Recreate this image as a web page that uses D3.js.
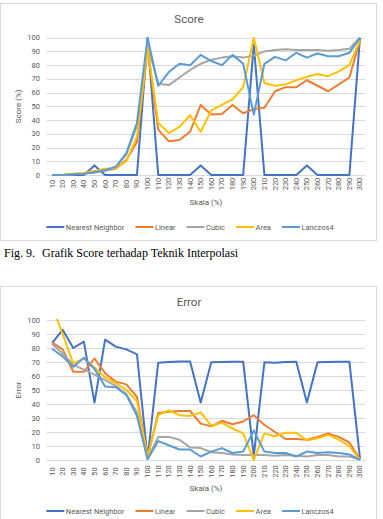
<!DOCTYPE html>
<html>
<head>
<meta charset="utf-8">
<script src="https://cdn.jsdelivr.net/npm/d3@7"></script>
<style>
  body { margin: 0; background: #fff; }
  svg { display: block; }
</style>
</head>
<body>
<script>
// ------------------
// Data
// ------------------
const categories = ['10', '20', '30', '40', '50', '60', '70', '80', '90', '100',
  '110', '120', '130', '140', '150', '160', '170', '180', '190', '200',
  '210', '220', '230', '240', '250', '260', '270', '280', '290', '300']

const seriesNames = ['Nearest Neighbor', 'Linear', 'Cubic', 'Area', 'Lanczos4']
const seriesColors = ['#4472C4', '#ED7D31', '#A5A5A5', '#FFC000', '#5B9BD5']

const yTicks = [0, 10, 20, 30, 40, 50, 60, 70, 80, 90, 100]

const scoreNearest = [0, 0, 0, 0, 7, 0, 0, 0, 0, 100, 0, 0, 0, 0, 7, 0, 0, 0, 0, 95, 0, 0, 0, 0, 7, 0, 0, 0, 0, 100]
const scoreLinear = [0, 0, 0.5, 1, 2, 3.5, 4.5, 11, 24, 92, 33, 24.5, 25.5, 31.5, 51, 44, 44.5, 51, 45, 48, 49, 61, 64, 64, 69, 65, 61, 66, 71, 98]
const scoreCubic = [0, 0, 0.5, 1, 2, 3, 5.5, 15, 36, 95, 66.5, 65.5, 71, 76.5, 81, 84, 85.5, 86.5, 85.5, 87, 90, 91, 91.5, 91, 91, 91, 90.5, 91, 92, 100]
const scoreArea = [0, 0, 1, 1.5, 3, 4.5, 5, 10, 28, 93, 38, 30.5, 35, 43.5, 31.5, 47, 51, 55, 64, 100, 67, 65, 66, 69, 71.5, 73.5, 72, 75.5, 80, 98]
const scoreLanczos = [0, 0, 0.5, 1, 2, 3.5, 6, 16, 38, 100, 65, 75, 81, 80, 87.5, 83, 80, 87.5, 81, 44, 81, 86, 83.5, 89, 85.5, 88.5, 86.5, 86.5, 89, 100]

const errorNearest = [83.5, 93, 80, 84.5, 41, 86, 81, 79, 75.5, 1, 69.5, 70, 70.3, 70.3, 41, 69.8, 70, 70.2, 70.2, 3, 69.8, 69.5, 70, 70.2, 41, 69.8, 70, 70.2, 70.2, 1]
const errorLinear = [84, 79, 63, 63, 72.5, 62, 56, 54, 45, 2, 33.5, 34.5, 35, 35, 26, 24, 28, 25.5, 27.5, 32, 25, 20, 15, 15, 14.5, 16.5, 19, 16.5, 12.5, 0.5]
const errorCubic = [83, 76, 68, 64.5, 61, 57, 53, 47, 34, 1, 16.5, 16.5, 14.5, 9, 8.5, 5.5, 5, 4, 3.5, 3.5, 3.5, 3, 3.5, 3, 2.5, 3.5, 3.5, 2.5, 2.5, 0.5]
const errorArea = [110, 90, 69, 72.5, 66, 59, 55, 50, 42, 2.5, 32, 35.5, 32, 31.5, 34, 24.5, 26.5, 22.5, 19, 0, 19, 17, 19.5, 19.5, 14, 15.5, 18, 14.5, 10, 0]
const errorLanczos = [79.5, 74, 66.5, 73, 65, 52.5, 52, 46.5, 31.5, 0.5, 13.5, 10.5, 7.5, 7.5, 2.5, 6, 8.5, 5, 6, 21, 6, 5, 5, 2.5, 6, 5, 5.5, 5, 4, 0]

// ------------------
// Layout
// ------------------
const W = 383, H = 519
const svg = d3.select('body').append('svg')
  .attr('width', W)
  .attr('height', H)

const font = 'Roboto, "Open Sans", sans-serif'
const textColor = '#595959'

function renderChart(cfg) {
  const g = svg.append('g')

  // chart box
  g.append('rect')
    .attr('x', 0.5)
    .attr('y', cfg.boxTop + 0.5)
    .attr('width', 376)
    .attr('height', cfg.boxBottom - cfg.boxTop)
    .attr('fill', '#fff')
    .attr('stroke', '#d9d9d9')

  // title
  g.append('text')
    .attr('x', 189)
    .attr('y', cfg.titleY)
    .attr('text-anchor', 'middle')
    .attr('dominant-baseline', 'central')
    .attr('font-family', font)
    .attr('font-size', 11.5)
    .attr('fill', textColor)
    .text(cfg.title)

  const x = d3.scaleBand()
    .domain(categories)
    .range([46.7, 365.3])
    .padding(0)

  const y = d3.scaleLinear()
    .domain([0, 100])
    .range([cfg.plotBottom, cfg.plotTop])

  // gridlines
  g.append('g')
    .selectAll('line')
    .data(yTicks)
    .enter()
    .append('line')
    .attr('x1', 46.7)
    .attr('x2', 365.3)
    .attr('y1', d => Math.round(y(d)) + 0.5)
    .attr('y2', d => Math.round(y(d)) + 0.5)
    .attr('stroke', '#d9d9d9')
    .attr('stroke-width', 1)

  // y tick labels
  g.append('g')
    .selectAll('text')
    .data(yTicks)
    .enter()
    .append('text')
    .attr('x', 40)
    .attr('y', d => y(d))
    .attr('text-anchor', 'end')
    .attr('dominant-baseline', 'central')
    .attr('font-family', font)
    .attr('font-size', 7.5)
    .attr('fill', textColor)
    .text(d => d)

  // x tick labels (rotated)
  g.append('g')
    .selectAll('text')
    .data(categories)
    .enter()
    .append('text')
    .attr('transform', d => `translate(${x(d) + x.bandwidth() / 2},${cfg.tickY}) rotate(-90)`)
    .attr('text-anchor', 'middle')
    .attr('dominant-baseline', 'central')
    .attr('font-family', font)
    .attr('font-size', 7.5)
    .attr('fill', textColor)
    .text(d => d)

  // axis titles
  g.append('text')
    .attr('transform', `translate(18,${(cfg.plotTop + cfg.plotBottom) / 2}) rotate(-90)`)
    .attr('text-anchor', 'middle')
    .attr('dominant-baseline', 'central')
    .attr('font-family', font)
    .attr('font-size', 8)
    .attr('fill', textColor)
    .text(cfg.yLabel)

  g.append('text')
    .attr('x', 206)
    .attr('y', cfg.xTitleY)
    .attr('text-anchor', 'middle')
    .attr('dominant-baseline', 'central')
    .attr('font-family', font)
    .attr('font-size', 8)
    .attr('fill', textColor)
    .text('Skala (%)')

  // lines, clipped to the plot area like the original
  const clipId = 'clip-' + cfg.title
  g.append('clipPath')
    .attr('id', clipId)
    .append('rect')
    .attr('x', 46.7)
    .attr('y', cfg.plotTop - 1)
    .attr('width', 365.3 - 46.7)
    .attr('height', cfg.plotBottom - cfg.plotTop + 3)

  const line = d3.line()
    .x((d, i) => x(categories[i]) + x.bandwidth() / 2)
    .y(d => y(d))

  const lines = g.append('g').attr('clip-path', `url(#${clipId})`)
  cfg.series.forEach((values, k) => {
    lines.append('path')
      .datum(values)
      .attr('fill', 'none')
      .attr('stroke', seriesColors[k])
      .attr('stroke-width', 2)
      .attr('stroke-linejoin', 'round')
      .attr('d', line)
  })

  // legend
  const legend = g.append('g')
  let cx = 0
  seriesNames.forEach((name, k) => {
    const item = legend.append('g').attr('transform', `translate(${cx},0)`)
    item.append('line')
      .attr('x1', 0)
      .attr('x2', 18)
      .attr('y1', 0)
      .attr('y2', 0)
      .attr('stroke', seriesColors[k])
      .attr('stroke-width', 2)
    const t = item.append('text')
      .attr('x', 19.5)
      .attr('y', 0)
      .attr('dominant-baseline', 'central')
      .attr('font-family', font)
      .attr('font-size', 7.5)
      .attr('fill', textColor)
      .text(name)
    cx += 19.5 + t.node().getComputedTextLength() + 11
  })
  const total = cx - 11
  legend.attr('transform', `translate(${190 - total / 2},${cfg.legendY})`)
}

renderChart({
  title: 'Score',
  yLabel: 'Score (%)',
  series: [scoreNearest, scoreLinear, scoreCubic, scoreArea, scoreLanczos],
  boxTop: 3, boxBottom: 240,
  titleY: 19,
  plotTop: 37.7, plotBottom: 175,
  tickY: 184,
  xTitleY: 202,
  legendY: 227
})

// caption
svg.append('text')
  .attr('x', 4)
  .attr('y', 257)
  .attr('font-family', '"Liberation Serif", "Times New Roman", serif')
  .attr('font-size', 12)
  .attr('fill', '#000')
  .text('Fig. 9.')

svg.append('text')
  .attr('x', 42)
  .attr('y', 257)
  .attr('font-family', '"Liberation Serif", "Times New Roman", serif')
  .attr('font-size', 12)
  .attr('fill', '#000')
  .text('Grafik Score terhadap Teknik Interpolasi')

renderChart({
  title: 'Error',
  yLabel: 'Error',
  series: [errorNearest, errorLinear, errorCubic, errorArea, errorLanczos],
  boxTop: 286, boxBottom: 530,
  titleY: 302,
  plotTop: 320, plotBottom: 460,
  tickY: 471.5,
  xTitleY: 488,
  legendY: 511
})
</script>
</body>
</html>
